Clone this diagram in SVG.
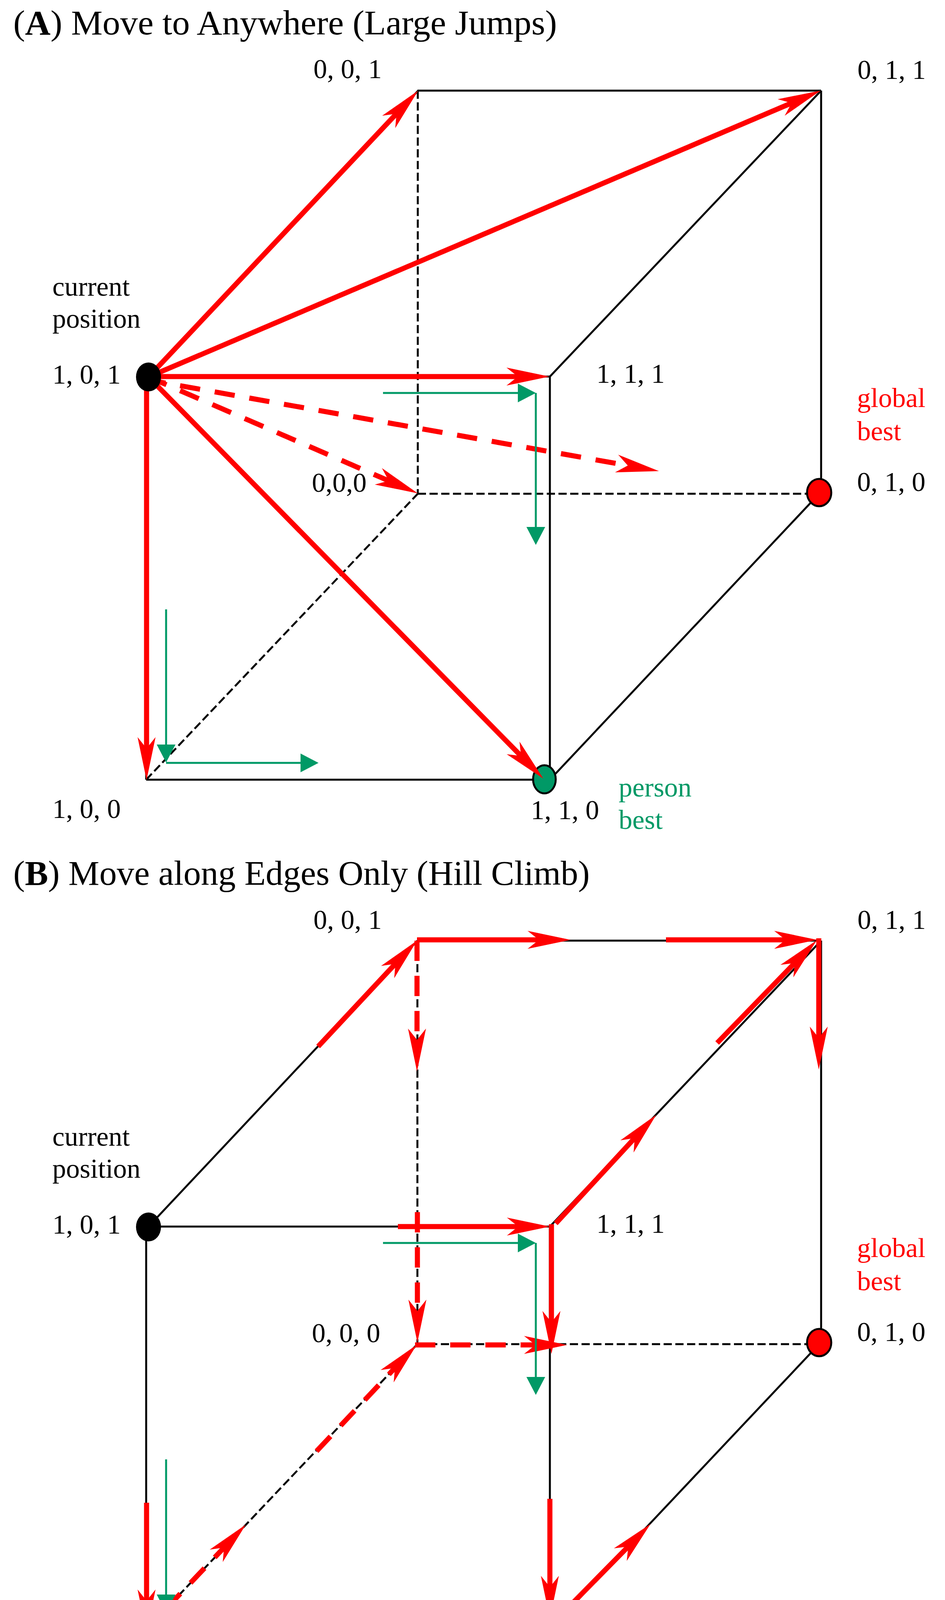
<svg xmlns="http://www.w3.org/2000/svg" width="2418" height="4323" viewBox="0 0 2418 4323">
<style>
.edge{stroke:#000;stroke-width:5;fill:none}
.edged{stroke:#000;stroke-width:5;fill:none;stroke-dasharray:21 9}
.red{stroke:#f00;stroke-width:13;fill:none;marker-end:url(#ah)}
.redd{stroke:#f00;stroke-width:13;fill:none;stroke-dasharray:52 38;marker-end:url(#ah)}
.grn{stroke:#009966;stroke-width:5;fill:none;marker-end:url(#gh)}
.lbl{font-family:"Liberation Serif","Times New Roman",serif;font-size:70px;fill:#000}
.ttl{font-family:"Liberation Serif","Times New Roman",serif;font-size:89px;fill:#000}
.rt{fill:#f00}
.gt{fill:#009966}
.nblk{fill:#000}
.nred{fill:#f00;stroke:#000;stroke-width:5}
.ngrn{fill:#009966;stroke:#000;stroke-width:5}
</style>
<defs>
<marker id="ah" markerUnits="userSpaceOnUse" orient="auto" markerWidth="240" markerHeight="240" viewBox="-120 -120 240 240" refX="0" refY="0" overflow="visible">
<path d="M70,0 L-40,-23 L-11,0 L-40,23 Z" fill="#f00"/>
</marker>
<marker id="gh" markerUnits="userSpaceOnUse" orient="auto" markerWidth="100" markerHeight="100" viewBox="-50 -50 100 100" refX="0" refY="0" overflow="visible">
<path d="M30,0 L-16,-24 L-16,24 Z" fill="#009966"/>
</marker>
</defs>
<rect width="2418" height="4323" fill="#fff"/>

<!-- Panel A -->
<text class="ttl" x="34" y="88" textLength="1391" lengthAdjust="spacingAndGlyphs">(<tspan font-weight="bold">A</tspan>) Move to Anywhere (Large Jumps)</text>
<g id="A-edges">
<line class="edge" x1="380" y1="964" x2="1407" y2="964"/>
<line class="edge" x1="1407" y1="964" x2="1407" y2="1996"/>
<line class="edge" x1="374" y1="1996" x2="1407" y2="1996"/>
<line class="edge" x1="374" y1="964" x2="374" y2="1996"/>
<line class="edge" x1="1068" y1="232" x2="2101" y2="232"/>
<line class="edge" x1="2101" y1="232" x2="2101" y2="1262"/>
<line class="edged" x1="1069" y1="232" x2="1069" y2="1264"/>
<line class="edged" x1="1069" y1="1264" x2="2096" y2="1264"/>
<line class="edge" x1="380" y1="964" x2="1070" y2="232"/>
<line class="edge" x1="1407" y1="964" x2="2101" y2="232"/>
<line class="edge" x1="1407" y1="1996" x2="2096" y2="1264"/>
<line class="edged" x1="374" y1="1996" x2="1069" y2="1264"/>
</g>
<g id="A-node-010"><ellipse class="nred" cx="2096" cy="1261" rx="31" ry="35"/></g>
<g id="A-node-110"><ellipse class="ngrn" cx="1393" cy="1995" rx="29" ry="36"/></g>
<g id="A-connectors">
<line class="red" x1="380" y1="965" x2="1022" y2="283"/>
<line class="red" x1="380" y1="965" x2="2035.6" y2="259.4"/>
<line class="red" x1="380" y1="964" x2="1336" y2="964"/>
<line class="red" x1="380" y1="965" x2="1340.9" y2="1943.1"/>
<line class="red" x1="375" y1="965" x2="375" y2="1927"/>
<line class="redd" x1="380" y1="965" x2="1004.8" y2="1235.2" stroke-dashoffset="2"/>
<line class="redd" x1="380" y1="973" x2="1617.1" y2="1193.7" stroke-dashoffset="8"/>
<line class="grn" x1="980" y1="1006" x2="1341" y2="1006"/>
<line class="grn" x1="1371" y1="1006" x2="1371" y2="1365"/>
<line class="grn" x1="425" y1="1560" x2="425" y2="1922"/>
<line class="grn" x1="425" y1="1953" x2="785" y2="1953"/>
</g>
<g id="A-node-101"><ellipse class="nblk" cx="380" cy="965" rx="32" ry="37"/></g>
<g id="A-labels">
<text class="lbl" x="802" y="200">0, 0, 1</text>
<text class="lbl" x="2194" y="202">0, 1, 1</text>
<text class="lbl" x="134" y="757">current</text>
<text class="lbl" x="134" y="839">position</text>
<text class="lbl" x="134" y="982">1, 0, 1</text>
<text class="lbl" x="1526" y="980">1, 1, 1</text>
<text class="lbl rt" x="2193" y="1042">global</text>
<text class="lbl rt" x="2193" y="1127">best</text>
<text class="lbl" x="798" y="1259">0,0,0</text>
<text class="lbl" x="2193" y="1257">0, 1, 0</text>
<text class="lbl" x="134" y="2094">1, 0, 0</text>
<text class="lbl" x="1358" y="2097">1, 1, 0</text>
<text class="lbl gt" x="1583" y="2039">person</text>
<text class="lbl gt" x="1583" y="2122">best</text>
</g>

<!-- Panel B -->
<text class="ttl" x="34" y="2265" textLength="1475" lengthAdjust="spacingAndGlyphs">(<tspan font-weight="bold">B</tspan>) Move along Edges Only (Hill Climb)</text>
<g id="B-edges">
<line class="edge" x1="380" y1="3140" x2="1407" y2="3140"/>
<line class="edge" x1="1407" y1="3140" x2="1407" y2="4172"/>
<line class="edge" x1="374" y1="4173" x2="1407" y2="4173"/>
<line class="edge" x1="374" y1="3140" x2="374" y2="4172"/>
<line class="edge" x1="1068" y1="2408" x2="2101" y2="2408"/>
<line class="edge" x1="2101" y1="2408" x2="2101" y2="3438"/>
<line class="edged" x1="1068" y1="2408" x2="1068" y2="3441"/>
<line class="edged" x1="1068" y1="3441" x2="2096" y2="3441"/>
<line class="edge" x1="380" y1="3140" x2="1068" y2="2408"/>
<line class="edge" x1="1407" y1="3140" x2="2101" y2="2408"/>
<line class="edge" x1="1407" y1="4172" x2="2096" y2="3441"/>
<line class="edged" x1="374" y1="4172" x2="1068" y2="3441"/>
</g>
<g id="B-node-010"><ellipse class="nred" cx="2096" cy="3437" rx="31" ry="35"/></g>
<g id="B-node-110"><ellipse class="ngrn" cx="1394" cy="4173" rx="29" ry="36"/></g>
<g id="B-connectors">
<line class="red" x1="814" y1="2679" x2="1019.2" y2="2459.2"/>
<line class="red" x1="1067" y1="2406" x2="1390" y2="2406"/>
<line class="red" x1="1704" y1="2406" x2="2021" y2="2406"/>
<line class="redd" x1="1067" y1="2408" x2="1067" y2="2673" stroke-dasharray="50 40"/>
<line class="redd" x1="1068" y1="3103" x2="1068" y2="3367" stroke-dasharray="51 40"/>
<line class="red" x1="1018" y1="3140" x2="1337" y2="3140"/>
<line class="red" x1="1411" y1="3134" x2="1411" y2="3396"/>
<line class="red" x1="1407" y1="3837" x2="1407" y2="4074"/>
<line class="red" x1="1422" y1="3132" x2="1631.5" y2="2905.4"/>
<line class="red" x1="1835" y1="2670" x2="2041.3" y2="2457.3"/>
<line class="red" x1="2095" y1="2402" x2="2095" y2="2668"/>
<line class="red" x1="1410" y1="4160" x2="1615.3" y2="3951.3"/>
<line class="red" x1="1004" y1="4177" x2="1296" y2="4177"/>
<line class="red" x1="375" y1="3847" x2="375" y2="4109"/>
<line class="redd" x1="374" y1="4172" x2="580.8" y2="3953.8" stroke-dasharray="56 39" stroke-dashoffset="15"/>
<line class="redd" x1="810" y1="3715" x2="1018" y2="3494" stroke-dasharray="56 36"/>
<line class="redd" x1="1062" y1="3443" x2="1381" y2="3443" stroke-dasharray="50 39"/>
<line class="grn" x1="980" y1="3182" x2="1341" y2="3182"/>
<line class="grn" x1="1371" y1="3182" x2="1371" y2="3541"/>
<line class="grn" x1="425" y1="3736" x2="425" y2="4098"/>
<line class="grn" x1="425" y1="4129" x2="785" y2="4129"/>
</g>
<g id="B-node-101"><ellipse class="nblk" cx="380" cy="3141" rx="32" ry="37"/></g>
<g id="B-labels">
<text class="lbl" x="802" y="2378">0, 0, 1</text>
<text class="lbl" x="2194" y="2378">0, 1, 1</text>
<text class="lbl" x="134" y="2933">current</text>
<text class="lbl" x="134" y="3015">position</text>
<text class="lbl" x="134" y="3158">1, 0, 1</text>
<text class="lbl" x="1526" y="3156">1, 1, 1</text>
<text class="lbl rt" x="2193" y="3218">global</text>
<text class="lbl rt" x="2193" y="3303">best</text>
<text class="lbl" x="798" y="3436">0, 0, 0</text>
<text class="lbl" x="2193" y="3433">0, 1, 0</text>
<text class="lbl" x="134" y="4270">1, 0, 0</text>
<text class="lbl" x="1358" y="4273">1, 1, 0</text>
<text class="lbl gt" x="1583" y="4215">person</text>
<text class="lbl gt" x="1583" y="4298">best</text>
</g>
</svg>
